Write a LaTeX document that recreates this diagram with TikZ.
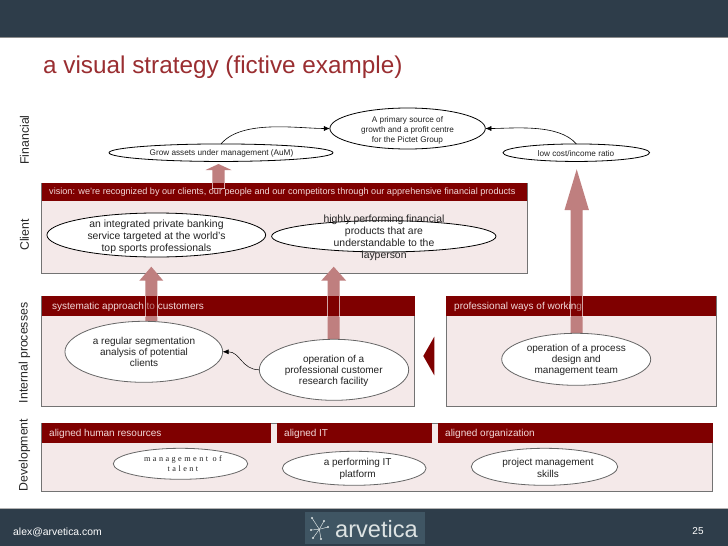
\documentclass[tikz,border=0pt]{standalone}
\usepackage{fontspec}
\setmainfont{Liberation Sans}
\newfontfamily\spacedserif[LetterSpace=30]{Liberation Serif}
\usetikzlibrary{calc,arrows.meta,shapes.geometric}
\definecolor{bar}{HTML}{2E3D4A}
\definecolor{hdr}{HTML}{7F0000}
\definecolor{bodyc}{HTML}{F4E9E9}
\definecolor{blk}{HTML}{BF7F7F}
\definecolor{ttl}{HTML}{9A2E31}
\definecolor{hdt}{HTML}{F2D9D9}
\definecolor{txt}{HTML}{222222}
\definecolor{logobg}{HTML}{3F5563}
\definecolor{logot}{HTML}{DDE3E3}
\pgfdeclarelayer{back}
\pgfsetlayers{back,main}
\newcommand{\blockpath}[5]{($(#1)+(-#3,0)$) -- ($(#2)+(-#3,#4)$) -- ($(#2)+(-#5,#4)$) -- (#2) -- ($(#2)+(#5,#4)$) -- ($(#2)+(#3,#4)$) -- ($(#1)+(#3,0)$) -- cycle}
\tikzset{
 x=1pt,y=-1pt,
 panel/.style={draw=black!55,line width=.7pt,fill=bodyc,anchor=north west,inner sep=0pt,outer sep=0pt},
 header/.style={fill=hdr,anchor=north west,inner sep=0pt,outer sep=0pt},
 hlabel/.style={anchor=west,text=hdt,font=\fontsize{10}{11}\selectfont,inner sep=0pt},
 ovalk/.style={draw=black,line width=.8pt,fill=white,ellipse,inner sep=0pt,outer sep=0pt},
 ovalg/.style={draw=black!60,line width=.8pt,fill=white,ellipse,inner sep=0pt,outer sep=0pt},
 etext/.style={align=center,text=txt,inner sep=0pt,font=\fontsize{10}{11}\selectfont},
 esmall/.style={align=center,text=txt,inner sep=0pt,font=\fontsize{8.2}{9.7}\selectfont},
 elarge/.style={align=center,text=txt,inner sep=0pt,font=\fontsize{10.4}{12}\selectfont},
 side/.style={rotate=90,text=black!85,font=\fontsize{12.3}{14}\selectfont,inner sep=0pt},
 link/.style={draw=black,line width=.6pt,-{Latex[length=6pt,width=5pt]}},
 star/.style={line width=.5pt,draw=logot},
}
\begin{document}
\begin{tikzpicture}
\useasboundingbox (0,0) rectangle (728,546);
% texts of the page
\node[anchor=west,text=ttl,font=\fontsize{24.3}{26}\selectfont,inner sep=0pt] (title) at (43,67.5) {a visual strategy (fictive example)};
\node[side] (sf) at (24.5,140) {Financial};
\node[side] (sc) at (24.5,235) {Client};
\node[side] (si) at (24.5,353) {Internal processes};
\node[side] (sd) at (24.5,455) {Development};
% ellipses
\node[ovalk,minimum width=224pt,minimum height=17.5pt] (aum) at (221,152.7) {};
\node[ovalk,minimum width=155.4pt,minimum height=41pt] (pri) at (407.6,128.5) {};
\node[ovalk,minimum width=146.6pt,minimum height=17.5pt] (low) at (576.3,152.7) {};
\node[ovalk,minimum width=218.7pt,minimum height=44pt] (c1) at (156.3,235) {};
\node[ovalk,minimum width=224.3pt,minimum height=31.3pt] (c2) at (383.8,236.3) {};
\node[ovalg,minimum width=157.7pt,minimum height=61pt] (seg) at (143.8,351.8) {};
\node[ovalg,minimum width=149.4pt,minimum height=61pt] (op) at (334,369.8) {};
\node[ovalg,minimum width=149pt,minimum height=52pt] (proc) at (576.2,359.3) {};
\node[ovalg,minimum width=134.4pt,minimum height=31pt] (mg) at (180.5,463.8) {};
\node[ovalg,minimum width=143.7pt,minimum height=34pt] (perf) at (354.2,468.3) {};
\node[ovalg,minimum width=146.4pt,minimum height=37pt] (proj) at (544.5,466.8) {};
% ellipse texts
\node[etext,font=\fontsize{8.2}{8.2}\selectfont] (taum) at (221.5,153.5) {Grow assets under management (AuM)};
\node[esmall] (tpri) at (407.5,130.5) {A primary source of\\growth and a profit centre\\for the Pictet Group};
\node[esmall] (tlow) at (576,153.5) {low cost/income ratio};
\node[elarge] (tc1) at (156.5,236.5) {an integrated private banking\\service targeted at the world’s\\top sports professionals};
\node[elarge] (tc2) at (384,238) {highly performing financial\\products that are\\understandable to the\\layperson};
\node[etext] (tseg) at (144,351.7) {a regular segmentation\\analysis of potential\\clients};
\node[etext] (top) at (333.7,370.7) {operation of a\\professional customer\\research facility};
\node[etext] (tproc) at (576.3,360) {operation of a process\\design and\\management team};
\node[align=center,text=txt,inner sep=0pt,font=\fontsize{8.2}{10}\spacedserif] (tmg) at (183,464) {management of\\talent};
\node[etext,font=\fontsize{10}{12}\selectfont] (tperf) at (357.7,468.7) {a performing IT\\platform};
\node[etext,font=\fontsize{10}{11.7}\selectfont] (tproj) at (548,468) {project management\\skills};
% header labels
\node[hlabel,font=\fontsize{9.13}{11}\selectfont] (lv) at (49,191.7) {vision: we’re recognized by our clients, our people and our competitors through our apprehensive financial products};
\node[hlabel] (ls) at (52,306.7) {systematic approach \textcolor{blk}{to} customers};
\node[hlabel] (lp) at (454,306.7) {professional ways of workin\textcolor{blk}{g}};
\node[hlabel] (lh) at (49,433.7) {aligned human resources};
\node[hlabel] (li) at (284,433.7) {aligned IT};
\node[hlabel] (lo) at (445,433.7) {aligned organization};
% connectors between ellipses
\draw[link] (aum.north) to[out=50,in=180,looseness=.75] (pri.west);
\draw[link] (low.north) to[out=130,in=0,looseness=.75] (pri.east);
\draw[link,line width=.5pt] (op.west) to[out=180,in=0,looseness=1.1] (seg.east);
% arrow ends
\coordinate (a1t) at (218.5,164);
\coordinate (a1b) at (218.5,188.7);
\coordinate (a2t) at (151.3,266.7);
\coordinate (a2b) at (seg.north -| a2t);
\coordinate (a3t) at (333.7,266.7);
\coordinate (a3b) at (op.north -| a3t);
\coordinate (a4t) at (576.7,169.3);
\coordinate (a4b) at (proc.north -| a4t);
% footer
\node[anchor=west,text=white,font=\fontsize{10.4}{12}\selectfont,inner sep=0pt] (mail) at (13,532) {alex@arvetica.com};
\node[anchor=center,text=white,font=\fontsize{10}{12}\selectfont,inner sep=0pt] (pg) at (698,531) {25};
\node[anchor=center,fill=logobg,minimum width=120pt,minimum height=32pt,inner sep=0pt] (logo) at (365,528) {};
\node[anchor=west,text=logot,font=\fontsize{23.6}{26}\selectfont,inner sep=0pt] (logot) at (335,529) {arvetica};
\coordinate (sc0) at (319.3,529.3);
\foreach \px/\py in {312/518,328/527,324/521,313/538,321/539,311/530}{
  \draw[star] (sc0) -- (\px,\py);
  \fill[logot] (\px,\py) circle (1.2pt);
}
\begin{pgfonlayer}{back}
\fill[white] (0,0) rectangle (728,546);
\fill[bar] (0,0) rectangle (728,37);
\fill[bar] (0,509) rectangle (728,546);
\draw[black!30,line width=.8pt] (0,508.7) -- (728,508.7);
\draw[black!45,line width=.6pt] (0,36.9) -- (728,36.9);
% panels
\node[panel,minimum width=485.5pt,minimum height=90pt] (pc) at (41.5,183) {};
\node[panel,minimum width=373pt,minimum height=110pt] (pi) at (41.5,296) {};
\node[panel,minimum width=270pt,minimum height=110pt] (pw) at (446,296) {};
\node[panel,minimum width=671.2pt,minimum height=68pt] (pd) at (41.5,423) {};
% block arrows
\fill[blk] \blockpath{a1b}{a1t}{6.2}{6}{13};
\fill[blk] \blockpath{a2b}{a2t}{6}{14}{12};
\fill[blk] \blockpath{a3b}{a3t}{6}{14}{12.5};
\fill[blk] \blockpath{a4b}{a4t}{6}{40.7}{12.2};
% headers
\node[header,minimum width=485.5pt,minimum height=17.6pt] (hc) at (41.5,183) {};
\node[header,minimum width=373pt,minimum height=20pt] (hi) at (41.5,296) {};
\node[header,minimum width=270pt,minimum height=20pt] (hw) at (446,296) {};
\node[header,minimum width=229.5pt,minimum height=20pt] (hh) at (41.5,423) {};
\node[header,minimum width=155pt,minimum height=20pt] (ht) at (277,423) {};
\node[header,minimum width=275.2pt,minimum height=20pt] (ho) at (437.5,423) {};
% arrow edges where they cross the headers
\begin{scope}
\clip (hc.north west) rectangle (hc.south east);
\draw[white,line width=.5pt] \blockpath{a1b}{a1t}{6.2}{6}{13};
\end{scope}
\begin{scope}
\clip (hi.north west) rectangle (hi.south east);
\draw[white,line width=.5pt] \blockpath{a2b}{a2t}{6}{14}{12};
\draw[white,line width=.5pt] \blockpath{a3b}{a3t}{6}{14}{12.5};
\end{scope}
\begin{scope}
\clip (hw.north west) rectangle (hw.south east);
\draw[white,line width=.5pt] \blockpath{a4b}{a4t}{6}{40.7}{12.2};
\end{scope}
% pointer between the process panels
\fill[hdr] (423.3,356) -- (434.3,336.7) -- (434.3,375.3) -- cycle;
\end{pgfonlayer}
\end{tikzpicture}
\end{document}
